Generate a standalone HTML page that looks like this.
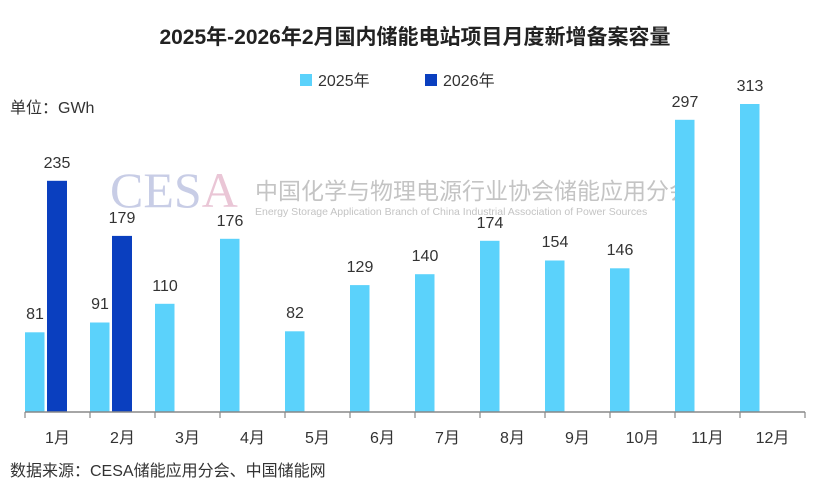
<!DOCTYPE html>
<html><head><meta charset="utf-8"><style>
body{margin:0;background:#fff;}
svg text{font-family:"Liberation Sans","Noto Sans CJK SC",sans-serif;}
</style></head><body>
<svg width="830" height="497" xmlns="http://www.w3.org/2000/svg">
<text x="415" y="44" text-anchor="middle" font-size="21" font-weight="bold" fill="#222">2025年-2026年2月国内储能电站项目月度新增备案容量</text>
<rect x="300" y="74" width="12" height="12" fill="#5bd2fb"/>
<text x="318" y="86" font-size="16" fill="#333">2025年</text>
<rect x="425" y="74" width="12" height="12" fill="#0a3fbf"/>
<text x="443" y="86" font-size="16" fill="#333">2026年</text>
<text x="10" y="113" font-size="16" fill="#333">单位：GWh</text>
<text x="110" y="207" style="font-family:'Liberation Serif',serif" font-size="50" fill="#c8cde6">CES<tspan fill="#eac6d6">A</tspan></text>
<text x="255" y="199" font-size="23" fill="#c4c4c4">中国化学与物理电源行业协会储能应用分会</text>
<text x="255" y="215" font-size="10.5" fill="#c4c4c4">Energy Storage Application Branch of China Industrial Association of Power Sources</text>
<g fill="#5bd2fb">
<rect x="25" y="332.3" width="19.5" height="79.7"/>
<rect x="90" y="322.5" width="19.5" height="89.5"/>
<rect x="155" y="303.8" width="19.5" height="108.2"/>
<rect x="220" y="238.8" width="19.5" height="173.2"/>
<rect x="285" y="331.3" width="19.5" height="80.7"/>
<rect x="350" y="285.1" width="19.5" height="126.9"/>
<rect x="415" y="274.2" width="19.5" height="137.8"/>
<rect x="480" y="240.8" width="19.5" height="171.2"/>
<rect x="545" y="260.5" width="19.5" height="151.5"/>
<rect x="610" y="268.3" width="19.5" height="143.7"/>
<rect x="675" y="119.8" width="19.5" height="292.2"/>
<rect x="740" y="104" width="19.5" height="308"/>
</g>
<g fill="#0a3fbf">
<rect x="47" y="180.8" width="20" height="231.2"/>
<rect x="112" y="235.9" width="20" height="176.1"/>
</g>
<g font-size="16" fill="#333" text-anchor="middle">
<text x="35" y="319">81</text>
<text x="57" y="168">235</text>
<text x="100" y="309">91</text>
<text x="122" y="223">179</text>
<text x="165" y="291">110</text>
<text x="230" y="226">176</text>
<text x="295" y="318">82</text>
<text x="360" y="272">129</text>
<text x="425" y="261">140</text>
<text x="490" y="228">174</text>
<text x="555" y="247">154</text>
<text x="620" y="255">146</text>
<text x="685" y="107">297</text>
<text x="750" y="91">313</text>
<text x="57.5" y="443">1月</text>
<text x="122.5" y="443">2月</text>
<text x="187.5" y="443">3月</text>
<text x="252.5" y="443">4月</text>
<text x="317.5" y="443">5月</text>
<text x="382.5" y="443">6月</text>
<text x="447.5" y="443">7月</text>
<text x="512.5" y="443">8月</text>
<text x="577.5" y="443">9月</text>
<text x="642.5" y="443">10月</text>
<text x="707.5" y="443">11月</text>
<text x="772.5" y="443">12月</text>
</g>
<line x1="25" y1="412" x2="805" y2="412" stroke="#888" stroke-width="1.5"/>
<g stroke="#888" stroke-width="1.2">
<line x1="25" y1="412" x2="25" y2="418"/><line x1="90" y1="412" x2="90" y2="418"/><line x1="155" y1="412" x2="155" y2="418"/><line x1="220" y1="412" x2="220" y2="418"/><line x1="285" y1="412" x2="285" y2="418"/><line x1="350" y1="412" x2="350" y2="418"/><line x1="415" y1="412" x2="415" y2="418"/><line x1="480" y1="412" x2="480" y2="418"/><line x1="545" y1="412" x2="545" y2="418"/><line x1="610" y1="412" x2="610" y2="418"/><line x1="675" y1="412" x2="675" y2="418"/><line x1="740" y1="412" x2="740" y2="418"/><line x1="805" y1="412" x2="805" y2="418"/>
</g>
<text x="10" y="476" font-size="16" fill="#333">数据来源：CESA储能应用分会、中国储能网</text>
</svg>
</body></html>
